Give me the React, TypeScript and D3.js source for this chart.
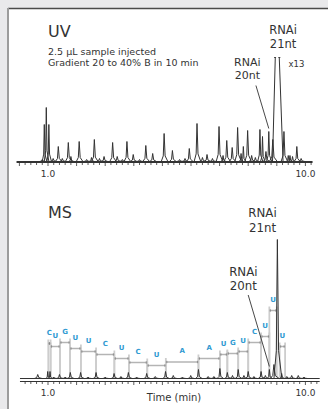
import React from 'react';
import * as d3 from 'd3';

const W = 328;
const H = 409;

// UV trace: retention time (min), peak height (px-like units), half width (min)
const uvTimes = [0.80, 0.87, 0.94, 1.03, 1.18, 1.36, 1.50, 1.71, 1.80, 2.09, 2.35, 2.52, 2.62, 2.80, 2.96, 3.26, 3.42, 3.60, 3.76, 3.98, 4.20, 4.42, 4.66, 5.06, 5.35, 5.60, 5.79, 5.94, 6.21, 6.40, 6.56, 6.75, 6.98, 7.12, 7.25, 7.44, 7.63, 7.75, 7.83, 7.98, 8.12, 8.25, 8.41, 8.50, 8.62, 8.72, 8.86, 9.01, 9.25, 9.40, 9.46, 9.55, 9.70, 9.85];
const uvHeights = [2, 37, 54, 37, 3, 15, 3, 19, 5, 20, 2, 4, 22, 3, 5, 19, 5, 2, 20, 7, 2, 16, 8, 28, 11, 2, 3, 13, 38, 4, 7, 3, 35, 6, 21, 14, 34, 8, 15, 31, 6, 4, 32, 25, 10, 30, 22, 600, 30, 6, 6, 5, 15, 3];
const uvWidths = [0.1, 0.07, 0.07, 0.07, 0.1, 0.1, 0.1, 0.1, 0.08, 0.1, 0.1, 0.08, 0.1, 0.1, 0.1, 0.1, 0.1, 0.1, 0.1, 0.1, 0.1, 0.1, 0.1, 0.1, 0.1, 0.1, 0.1, 0.1, 0.1, 0.1, 0.1, 0.1, 0.1, 0.08, 0.1, 0.1, 0.1, 0.07, 0.07, 0.1, 0.1, 0.1, 0.08, 0.07, 0.1, 0.08, 0.12, 0.16, 0.1, 0.07, 0.07, 0.08, 0.09, 0.1];
const uvClip = 104; // trace clipped above this (x13 peak)

// MS trace
const msTimes = [0.64, 0.99, 1.07, 1.20, 1.40, 1.60, 1.78, 2.14, 2.40, 2.68, 3.00, 3.31, 3.55, 3.81, 4.10, 4.45, 4.75, 5.11, 5.38, 5.70, 5.99, 6.26, 6.60, 6.80, 7.01, 7.27, 7.45, 7.65, 7.85, 8.00, 8.20, 8.45, 8.60, 8.74, 8.90, 9.02, 9.17, 9.35, 9.52, 9.75, 9.95];
const msHeights = [4, 7, 7, 1.5, 4, 1.5, 6, 6, 1.5, 6, 1.5, 5, 2, 6, 1.5, 5, 2, 7, 3, 1.5, 3, 9, 2, 2, 10, 6, 3, 9, 3, 7, 2, 7, 3, 9, 14, 139, 5, 2, 3, 3, 1.5];
const msWidths = [0.12, 0.06, 0.06, 0.1, 0.1, 0.1, 0.1, 0.1, 0.1, 0.1, 0.1, 0.1, 0.1, 0.1, 0.1, 0.1, 0.1, 0.1, 0.1, 0.1, 0.1, 0.1, 0.1, 0.1, 0.1, 0.1, 0.1, 0.1, 0.1, 0.1, 0.1, 0.1, 0.1, 0.08, 0.14, 0.12, 0.08, 0.1, 0.1, 0.1, 0.1];

// sequence ladder on the MS trace
const ladderLetters = ['C', 'U', 'G', 'U', 'U', 'C', 'U', 'C', 'U', 'A', 'A', 'U', 'G', 'U', 'C', 'U', 'U', 'U'];
const ladderStart = [1.01, 1.09, 1.42, 1.77, 2.15, 2.68, 3.32, 3.83, 4.47, 5.12, 6.26, 7.01, 7.27, 7.65, 8.00, 8.45, 8.74, 9.10];
const ladderEnd = [1.09, 1.42, 1.77, 2.15, 2.68, 3.32, 3.83, 4.47, 5.12, 6.26, 7.01, 7.27, 7.65, 8.00, 8.45, 8.74, 9.00, 9.29];
const ladderLevel = [35, 32, 36, 30, 27, 24, 20, 16, 13, 16.5, 20, 24, 25, 27, 36, 42, 68, 32];

const tickLabels = ['1.0', '10.0'];
const tickLabelTimes = [1, 10];

const font = '"DejaVu Sans", Verdana, sans-serif';
const ink = '#333';

type Pt = [number, number];

export default function App() {
  const x = d3.scaleLinear().domain([1, 10]).range([48, 305.4]);
  const yUV = d3.scaleLinear().domain([0, 100]).range([161.5, 61.5]);
  const yMS = d3.scaleLinear().domain([0, 140]).range([378.5, 238.5]);

  const lineUV = d3.line<Pt>().x(d => x(d[0])).y(d => yUV(d[1]));
  const lineMS = d3.line<Pt>().x(d => x(d[0])).y(d => yMS(d[1]));

  // peak outline: sharp apex, flared foot, slight tailing
  const peakPts = (t: number, h: number, w: number): Pt[] => [
    [t - w, 0], [t - w * 0.3, h * 0.2], [t, h], [t + w * 0.35, h * 0.2], [t + w * 1.3, 0]
  ];

  const axis = (y0: number, t0: number, t1: number, key: string) => {
    const ticks = d3.range(0, 53).map(i => +(i * 0.2).toFixed(1)).filter(t => t > t0 && t < t1);
    return (
      <g key={key}>
        <line x1={x(t0)} x2={x(t1)} y1={y0} y2={y0} stroke={ink} strokeWidth={1} />
        {ticks.map(t => (
          <line key={t} x1={x(t)} x2={x(t)} y1={y0} y2={y0 + (Math.abs(t - Math.round(t)) < 1e-6 ? 3.5 : 2.5)} stroke={ink} strokeWidth={0.8} />
        ))}
        {tickLabels.map((l, i) => (
          <text key={l} x={x(tickLabelTimes[i])} y={y0 + 14} textAnchor="middle" fontFamily={font} fontSize={9} fill={ink}>{l}</text>
        ))}
      </g>
    );
  };

  // top of clipped x13 peak
  const bigIdx = uvHeights.indexOf(600);
  const bt = uvTimes[bigIdx], bh = uvHeights[bigIdx], bw = uvWidths[bigIdx];
  const capL = bt - bw * 0.3 * (1 - (bh * 0.2 - uvClip) / (bh * 0.2)) - 0;
  const frac = (uvClip - bh * 0.2) / (bh * 0.8);
  const capLx = x(bt - bw * 0.3 * (1 - frac));
  const capRx = x(bt + bw * 0.35 * (1 - frac));
  void capL;

  return (
    <svg width={W} height={H} style={{ position: 'absolute', left: 0, top: 0 }}>
      <defs>
        <clipPath id="uvclip">
          <rect x={0} y={yUV(uvClip)} width={W} height={H} />
        </clipPath>
      </defs>
      <rect width={W} height={H} fill="#e9e9eb" />
      <rect x={8} y={8} width={W - 8} height={H - 8} fill="#fff" />
      <line x1={8} x2={W} y1={8.5} y2={8.5} stroke="#4a4a4a" strokeWidth={1.5} />
      <line x1={8} x2={8} y1={8} y2={H} stroke="#9c9c9c" strokeWidth={2} />

      {/* UV panel */}
      <text x={x(1)} y={36.5} fontFamily={font} fontSize={16} fill={ink}>UV</text>
      <text x={x(1)} y={54.5} fontFamily={font} fontSize={9.5} fill={ink}>2.5 µL sample injected</text>
      <text x={x(1)} y={65.5} fontFamily={font} fontSize={9.5} fill={ink}>Gradient 20 to 40% B in 10 min</text>

      {axis(162.5, -0.1, 10.25, 'uvaxis')}
      <g fill="none" stroke={ink} strokeWidth={1} clipPath="url(#uvclip)">
        <path d={lineUV([[-0.1, 0], [10.25, 0]]) || ''} />
        {uvTimes.map((t, i) => (
          <path key={i} d={lineUV(peakPts(t, uvHeights[i], uvWidths[i])) || ''} />
        ))}
      </g>
      <g stroke={ink} strokeWidth={0.9}>
        <line x1={capLx - 1.6} x2={capLx + 0.4} y1={yUV(uvClip)} y2={yUV(uvClip)} />
        <line x1={capRx - 0.4} x2={capRx + 1.6} y1={yUV(uvClip)} y2={yUV(uvClip)} />
      </g>
      <text x={x(9.69)} y={67} textAnchor="middle" fontFamily={font} fontSize={8.5} fill={ink}>x13</text>
      <text x={x(9.22)} y={34.3} textAnchor="middle" fontFamily={font} fontSize={11.5} fill={ink}>
        RNAi<tspan x={x(9.22)} dy={14}>21nt</tspan>
      </text>
      <text x={x(7.97)} y={66} textAnchor="middle" fontFamily={font} fontSize={11} fill={ink}>
        RNAi<tspan x={x(7.97)} dy={12.5}>20nt</tspan>
      </text>
      <line x1={x(8.27)} y1={yUV(76)} x2={x(8.72)} y2={yUV(33)} stroke={ink} strokeWidth={0.9} />

      {/* MS panel */}
      <text x={x(1)} y={218} fontFamily={font} fontSize={16} fill={ink}>MS</text>

      {/* ladder */}
      <g>
        {ladderLetters.map((l, i) => (
          <g key={'b' + i} stroke="#cdcdcd" strokeWidth={1.8}>
            <line x1={x(ladderStart[i])} x2={x(ladderStart[i])} y1={yMS(1)} y2={yMS(ladderLevel[i] + 4)} />
            <line x1={x(ladderEnd[i])} x2={x(ladderEnd[i])} y1={yMS(1)} y2={yMS(ladderLevel[i] + 4)} />
          </g>
        ))}
        {ladderLetters.map((l, i) => (
          <g key={'s' + i}>
            <line x1={x(ladderStart[i])} x2={x(ladderEnd[i])} y1={yMS(ladderLevel[i])} y2={yMS(ladderLevel[i])} stroke="#b4b4b4" strokeWidth={1.5} />
            <line x1={x(ladderStart[i]) + 1} x2={x(ladderStart[i]) + 1} y1={yMS(ladderLevel[i]) - 1.2} y2={yMS(ladderLevel[i]) + 1.2} stroke="#808080" strokeWidth={0.8} />
            <line x1={x(ladderEnd[i]) - 1} x2={x(ladderEnd[i]) - 1} y1={yMS(ladderLevel[i]) - 1.2} y2={yMS(ladderLevel[i]) + 1.2} stroke="#808080" strokeWidth={0.8} />
            <text x={x((ladderStart[i] + ladderEnd[i]) / 2)} y={yMS(ladderLevel[i] + 9)} textAnchor="middle" fontFamily={font} fontSize={7} fontWeight="bold" fill="#2f9ad2">{l}</text>
          </g>
        ))}
      </g>

      {axis(381.5, 0.02, 10.5, 'msaxis')}
      <g fill="none" stroke={ink} strokeWidth={1}>
        <path d={lineMS([[0.02, 0], [10.5, 0]]) || ''} />
        {msTimes.map((t, i) => (
          <path key={i} d={lineMS(peakPts(t, msHeights[i], msWidths[i])) || ''} />
        ))}
      </g>
      <text x={x(8.5)} y={217} textAnchor="middle" fontFamily={font} fontSize={11.8} fill={ink}>
        RNAi<tspan x={x(8.5)} dy={14.5}>21nt</tspan>
      </text>
      <text x={x(7.83)} y={276} textAnchor="middle" fontFamily={font} fontSize={11.8} fill={ink}>
        RNAi<tspan x={x(7.83)} dy={14}>20nt</tspan>
      </text>
      <line x1={x(8.0)} y1={yMS(83.5)} x2={x(8.74)} y2={yMS(12)} stroke={ink} strokeWidth={0.9} />
      <text x={174} y={401} textAnchor="middle" fontFamily={font} fontSize={10} fill={ink}>Time (min)</text>
    </svg>
  );
}
